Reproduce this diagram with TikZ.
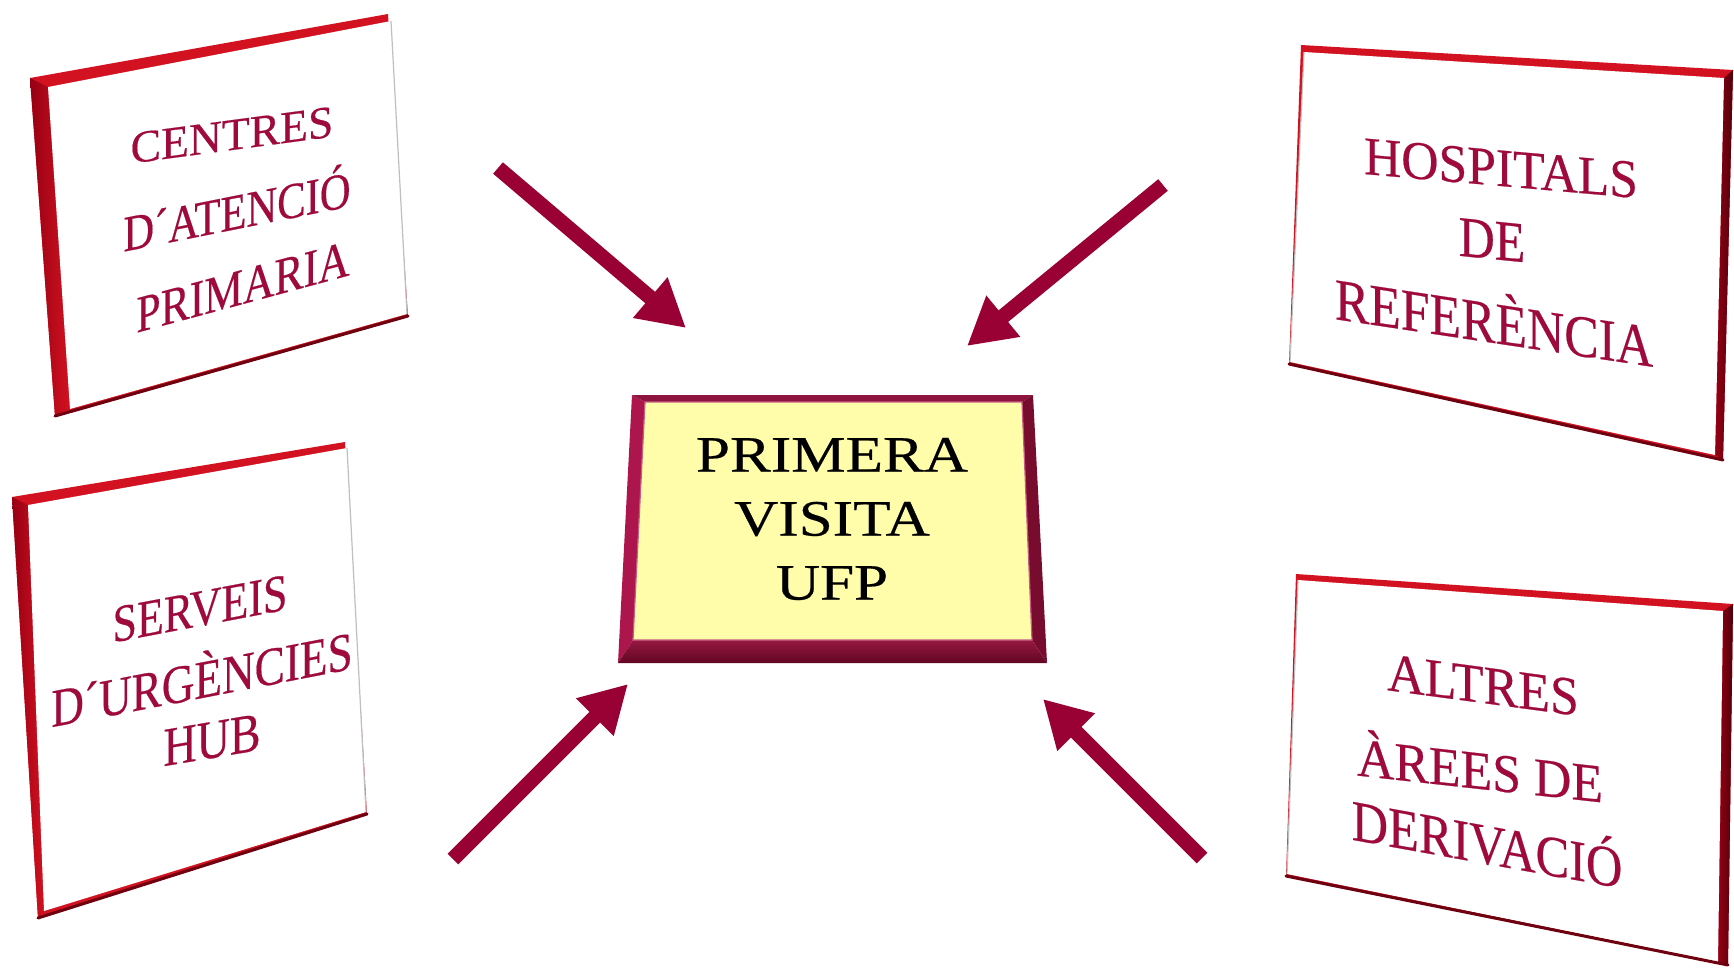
\documentclass[tikz,border=0pt]{standalone}
\usepackage{fontspec}
\setmainfont{Liberation Serif}
\usetikzlibrary{arrows.meta}
\definecolor{flowred}{RGB}{153,0,51}
\definecolor{inkred}{RGB}{158,10,60}
\definecolor{boardred}{RGB}{210,18,32}
\definecolor{boarddeep}{RGB}{150,0,20}
\definecolor{boarddark}{RGB}{80,0,10}
\definecolor{boardedge}{RGB}{110,0,16}
\definecolor{padyellow}{RGB}{255,253,170}
\definecolor{bevtop}{RGB}{140,20,62}
\definecolor{bevleft}{RGB}{172,22,76}
\definecolor{bevright}{RGB}{120,12,46}
\definecolor{bevlow}{RGB}{98,6,34}
\definecolor{bevlowlight}{RGB}{150,24,66}
\begin{document}
\begin{tikzpicture}[x=0.5pt,y=-0.5pt,
  flow/.style={draw=flowred, line width=7.5pt, -{Triangle[length=23.5pt,width=25pt]}},
  lbl/.style={text=inkred, inner sep=0pt, anchor=base,
    font=\fontsize{#1pt}{#1pt}\selectfont\addfontfeature{FakeBold=0.4}},
  boardface/.style={fill=white},
  boardtop/.style={fill=boardred},
  leftside/.style={left color=boarddeep, right color=boardred},
  rightside/.style={left color=boarddeep, right color=boarddark},
  lowedge/.style={draw=boardedge, line width=1.5pt, line cap=round},
  sideedge/.style={draw=black!25, line width=0.6pt},
]
\useasboundingbox (0,0) rectangle (1734,970);

% ---------- Centres d'atencio primaria (top left board) ----------
\coordinate (c-o1) at (30,78);   \coordinate (c-o2) at (388,14);
\coordinate (c-o3) at (408,316); \coordinate (c-o4) at (55,416);
\coordinate (c-f1) at (48,87);   \coordinate (c-f2) at (391,21);
\coordinate (c-f3) at (407,314); \coordinate (c-f4) at (70,409);
\fill[boardtop] (c-o1) -- (c-o2) -- (c-o3) -- (c-o4) -- cycle;
\shade[leftside] (c-o1) -- (c-f1) -- (c-f4) -- (c-o4) -- cycle;
\fill[boardface] (c-f1) -- (c-f2) -- (c-f3) -- (c-f4) -- cycle;
\draw[sideedge] (c-f2) -- (c-f3);
\draw[lowedge] (c-o4) -- (c-o3);
\node[lbl=22.8, yslant=0.133] (ctl1) at (232,150) {CENTRES};
\node[lbl=21.3, yslant=0.2, yscale=1.2] (ctl2) at (237,229) {D´ATENCIÓ};
\node[lbl=21.8, yslant=0.27, yscale=1.2] (ctl3) at (243,304) {PRIMARIA};

% ---------- Serveis d'urgencies (bottom left board) ----------
\coordinate (s-o1) at (12,497);  \coordinate (s-o2) at (345,442);
\coordinate (s-o3) at (367,814); \coordinate (s-o4) at (38,918);
\coordinate (s-f1) at (28,505);  \coordinate (s-f2) at (347,448);
\coordinate (s-f3) at (366,812); \coordinate (s-f4) at (44,911);
\fill[boardtop] (s-o1) -- (s-o2) -- (s-o3) -- (s-o4) -- cycle;
\shade[leftside] (s-o1) -- (s-f1) -- (s-f4) -- (s-o4) -- cycle;
\fill[boardface] (s-f1) -- (s-f2) -- (s-f3) -- (s-f4) -- cycle;
\draw[sideedge] (s-f2) -- (s-f3);
\draw[lowedge] (s-o4) -- (s-o3);
\node[lbl=22, yslant=0.19, yscale=1.2] (srv1) at (200,626) {SERVEIS};
\node[lbl=22.6, yslant=0.194, yscale=1.2] (srv2) at (202,698) {D´URGÈNCIES};
\node[lbl=23, yslant=0.17, yscale=1.2] (srv3) at (212,758) {HUB};

% ---------- Hospitals de referencia (top right board) ----------
\coordinate (h-o1) at (1301,45);  \coordinate (h-o2) at (1733,70);
\coordinate (h-o3) at (1723,460); \coordinate (h-o4) at (1289,364);
\coordinate (h-f1) at (1304,52);  \coordinate (h-f2) at (1724,78);
\coordinate (h-f3) at (1715,455); \coordinate (h-f4) at (1290,362);
\fill[boardtop] (h-o1) -- (h-o2) -- (h-o3) -- (h-o4) -- cycle;
\shade[rightside] (h-f2) -- (h-o2) -- (h-o3) -- (h-f3) -- cycle;
\fill[boardface] (h-f1) -- (h-f2) -- (h-f3) -- (h-f4) -- cycle;
\draw[sideedge] (h-f1) -- (h-f4);
\draw[lowedge] (h-o4) -- (h-o3);
\node[lbl=25.8, yslant=-0.088, yscale=1.05] (hos1) at (1501,186) {HOSPITALS};
\node[lbl=25, yslant=-0.1, yscale=1.15] (hos2) at (1492,259) {DE};
\node[lbl=25.8, yslant=-0.15, yscale=1.15] (hos3) at (1494,343) {REFERÈNCIA};

% ---------- Altres arees de derivacio (bottom right board) ----------
\coordinate (a-o1) at (1296,574); \coordinate (a-o2) at (1733,604);
\coordinate (a-o3) at (1728,965); \coordinate (a-o4) at (1286,876);
\coordinate (a-f1) at (1298,580); \coordinate (a-f2) at (1723,611);
\coordinate (a-f3) at (1718,962); \coordinate (a-f4) at (1287,874);
\fill[boardtop] (a-o1) -- (a-o2) -- (a-o3) -- (a-o4) -- cycle;
\shade[rightside] (a-f2) -- (a-o2) -- (a-o3) -- (a-f3) -- cycle;
\fill[boardface] (a-f1) -- (a-f2) -- (a-f3) -- (a-f4) -- cycle;
\draw[sideedge] (a-f1) -- (a-f4);
\draw[lowedge] (a-o4) -- (a-o3);
\node[lbl=26, yslant=-0.134, yscale=1.05] (alt1) at (1483,703) {ALTRES};
\node[lbl=25.9, yslant=-0.11, yscale=1.05] (alt2) at (1480,789) {ÀREES DE};
\node[lbl=25.2, yslant=-0.18, yscale=1.15] (alt3) at (1487,864) {DERIVACIÓ};

% ---------- Primera visita (central bevelled pad) ----------
\coordinate (p-o1) at (632,395);  \coordinate (p-o2) at (1033,395);
\coordinate (p-o3) at (1047,663); \coordinate (p-o4) at (618,663);
\coordinate (p-f1) at (645,402);  \coordinate (p-f2) at (1022,402);
\coordinate (p-f3) at (1032,640); \coordinate (p-f4) at (633,640);
\fill[bevtop] (p-o1) -- (p-o2) -- (p-f2) -- (p-f1) -- cycle;
\fill[bevright] (p-o2) -- (p-o3) -- (p-f3) -- (p-f2) -- cycle;
\fill[bevleft] (p-o1) -- (p-f1) -- (p-f4) -- (p-o4) -- cycle;
\shade[top color=bevlowlight, bottom color=bevlow] (p-f4) -- (p-f3) -- (p-o3) -- (p-o4) -- cycle;
\fill[padyellow, draw=bevleft!70, line width=0.6pt] (p-f1) -- (p-f2) -- (p-f3) -- (p-f4) -- cycle;
\node[text=black, align=center, inner sep=0pt, xscale=1.2,
      font=\fontsize{25.5pt}{32pt}\selectfont\addfontfeature{FakeBold=0.4}] (visit) at (832,519) {PRIMERA\\VISITA\\UFP};

% ---------- Arrows towards the central pad ----------
\coordinate (f1s) at (498,168);  \coordinate (f1e) at (686,328);
\coordinate (f2s) at (1163,185); \coordinate (f2e) at (967,346);
\coordinate (f3s) at (453,859);  \coordinate (f3e) at (628,684);
\coordinate (f4s) at (1202,858); \coordinate (f4e) at (1043,699);
\draw[flow] (f1s) -- (f1e);
\draw[flow] (f2s) -- (f2e);
\draw[flow] (f3s) -- (f3e);
\draw[flow] (f4s) -- (f4e);
\end{tikzpicture}
\end{document}
